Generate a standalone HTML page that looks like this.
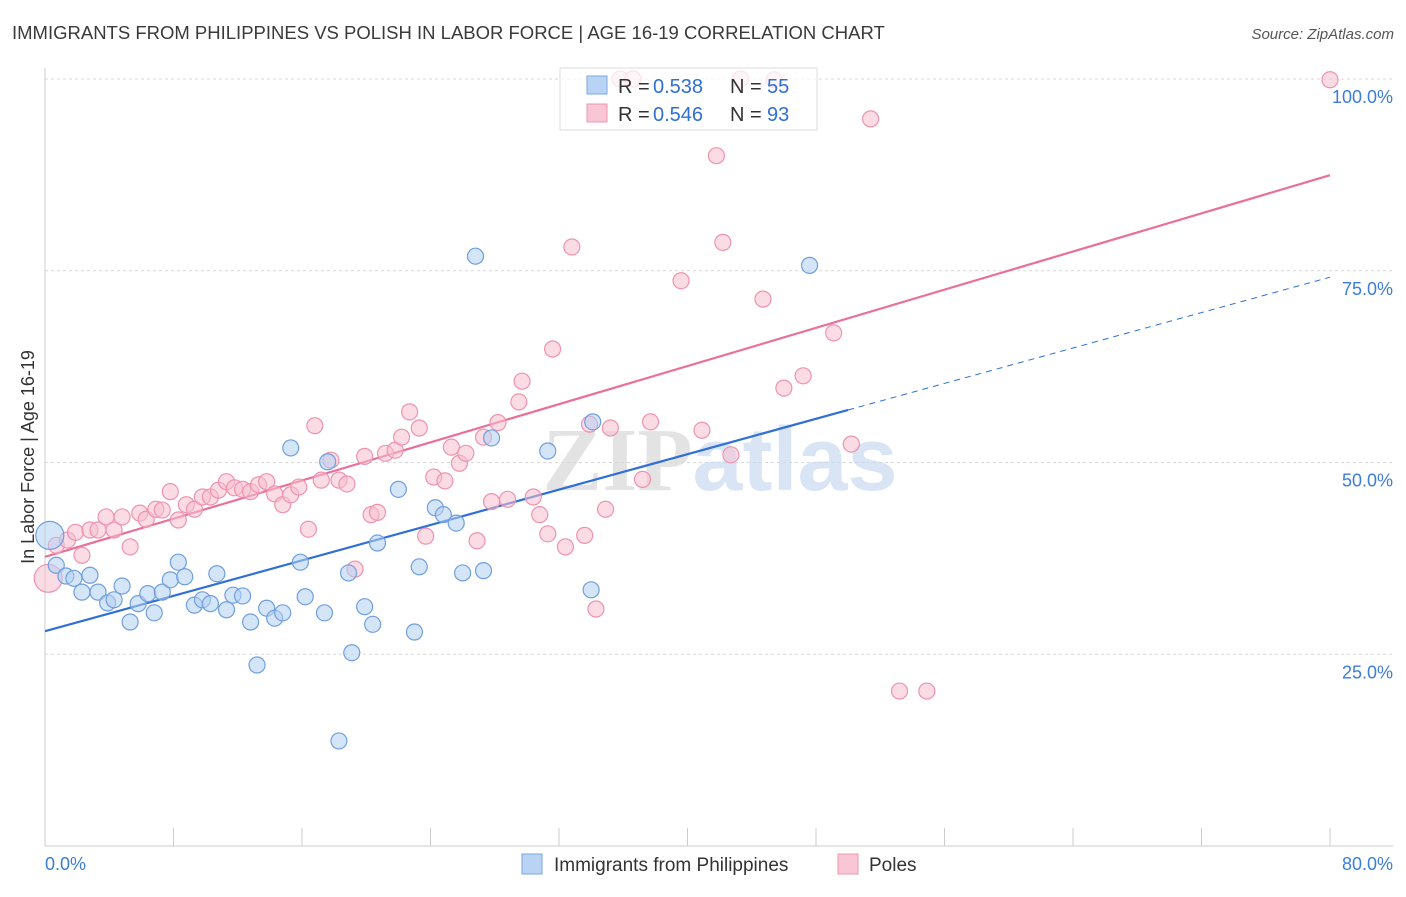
<!DOCTYPE html>
<html><head><meta charset="utf-8"><style>
body{margin:0;background:#fff;font-family:"Liberation Sans",sans-serif;}
svg text{font-family:"Liberation Sans",sans-serif;}
</style></head><body>
<svg id="chart" width="1406" height="892" xmlns="http://www.w3.org/2000/svg">
<text x="12" y="39" font-size="18.5" fill="#3a3a3a">IMMIGRANTS FROM PHILIPPINES VS POLISH IN LABOR FORCE | AGE 16-19 CORRELATION CHART</text>
<text x="1394" y="39" font-size="15" fill="#555" text-anchor="end" font-style="italic">Source: ZipAtlas.com</text>
<g id="grid"></g>
<text x="720" y="490" font-size="90" text-anchor="middle" font-weight="bold" fill="#dde3ec" opacity="0.7"><tspan fill="#d8d8d8" font-family="Liberation Serif">ZIP</tspan><tspan fill="#c9daf2">atlas</tspan></text>
<text transform="translate(34,457) rotate(-90)" font-size="18" fill="#333" text-anchor="middle">In Labor Force | Age 16-19</text>
<g id="lines"></g>
<g id="points"></g>
<g>
<rect x="560" y="68" width="257" height="62" fill="#fff" fill-opacity="0.75" stroke="#ddd"/>
<rect x="587" y="76" width="20" height="18" fill="#b9d3f5" stroke="#7aa7e3"/>
<text x="618" y="93" font-size="20" fill="#333">R =</text>
<text x="653" y="93" font-size="20" fill="#2f6fd6">0.538</text>
<text x="730" y="93" font-size="20" fill="#333">N =</text>
<text x="767" y="93" font-size="20" fill="#2f6fd6">55</text>
<rect x="587" y="104" width="20" height="18" fill="#f8c6d5" stroke="#ee97b3"/>
<text x="618" y="121" font-size="20" fill="#333">R =</text>
<text x="653" y="121" font-size="20" fill="#2f6fd6">0.546</text>
<text x="730" y="121" font-size="20" fill="#333">N =</text>
<text x="767" y="121" font-size="20" fill="#2f6fd6">93</text>
</g>
<g>
<rect x="522" y="854" width="20" height="20" fill="#b9d3f5" stroke="#7aa7e3"/>
<text x="554" y="871" font-size="19" fill="#333">Immigrants from Philippines</text>
<rect x="838" y="854" width="20" height="20" fill="#f8c6d5" stroke="#ee97b3"/>
<text x="869" y="871" font-size="19" fill="#333">Poles</text>
</g>
</svg>
<script>
const xTicks=[0,8,16,24,32,40,48,56,64,72,80];
const yTicks=[25,50,75,100];
const yTickLabels=["25.0%","50.0%","75.0%","100.0%"];
const xEndLabels=["0.0%","80.0%"];
const blueX=[0.3,0.7,1.3,1.8,2.3,2.8,3.3,3.9,4.3,4.8,5.3,5.8,6.4,6.8,7.3,7.8,8.3,8.7,9.3,9.8,10.3,10.7,11.3,11.7,12.3,12.8,13.2,13.8,14.3,14.8,15.3,15.9,16.2,17.4,17.6,18.3,18.9,19.1,19.9,20.4,20.7,22.0,23.0,23.3,24.3,24.8,25.6,26.0,26.8,27.3,27.8,31.3,34.0,34.1,47.6];
const blueY=[40.5,36.6,35.2,34.9,33.1,35.3,33.1,31.7,32.1,33.9,29.2,31.6,32.9,30.4,33.1,34.7,37.0,35.1,31.4,32.1,31.6,35.5,30.8,32.7,32.6,29.2,23.6,31.0,29.7,30.4,51.9,37.0,32.5,30.4,50.1,13.7,35.6,25.2,31.2,28.9,39.5,46.5,27.9,36.4,44.1,43.2,42.1,35.6,76.9,35.9,53.2,51.5,33.4,55.3,75.7];
const pinkX=[0.2,0.7,1.4,1.9,2.3,2.8,3.3,3.8,4.3,4.8,5.3,5.9,6.3,6.9,7.3,7.8,8.3,8.8,9.3,9.8,10.3,10.8,11.3,11.8,12.3,12.8,13.3,13.8,14.3,14.8,15.3,15.8,16.4,16.8,17.2,17.8,18.3,18.8,19.3,19.9,20.3,20.7,21.2,21.8,22.2,22.7,23.3,23.7,24.2,24.9,25.3,25.8,26.2,26.9,27.3,27.8,28.2,28.8,29.5,29.7,30.4,30.8,31.3,31.6,32.4,32.8,33.6,33.9,34.3,34.9,35.2,35.8,36.6,37.2,37.7,39.6,40.9,41.8,42.2,42.7,43.3,44.7,45.4,46.0,47.2,49.1,50.2,51.4,53.2,54.9,80.0];
const pinkY=[34.9,39.2,39.9,40.9,37.9,41.2,41.2,42.9,41.2,42.9,39.0,43.4,42.6,43.9,43.8,46.2,42.5,44.5,43.9,45.5,45.5,46.4,47.5,46.7,46.5,46.2,47.1,47.5,45.9,44.5,45.8,46.8,41.3,54.8,47.7,50.3,47.7,47.2,36.1,50.8,43.2,43.5,51.2,51.6,53.3,56.6,54.5,40.4,48.1,47.6,52.0,49.9,51.2,39.8,53.3,44.9,55.2,45.2,57.9,60.6,45.5,43.2,40.7,64.8,39.0,78.1,40.5,55.0,30.9,43.9,54.5,100,100,47.8,55.3,73.7,54.2,90.0,78.7,51.0,100,71.3,99.9,59.7,61.3,66.9,52.4,94.8,20.2,20.2,99.9];
const blueLine=[28.0,0.577];
const pinkLine=[37.7,0.622];
const NS="http://www.w3.org/2000/svg";
const X=v=>45+v*(1330-45)/80;
const Y=v=>846-v*7.67;
function mk(tag,attrs,parent){const e=document.createElementNS(NS,tag);for(const k in attrs)e.setAttribute(k,attrs[k]);parent.appendChild(e);return e;}
const grid=document.getElementById('grid');
yTicks.forEach((t,i)=>{
 const l=mk('line',{x1:45,x2:1393,y1:Y(t),y2:Y(t),stroke:'#d8d8d8','stroke-dasharray':'3,3'},grid);
 
 
 const tx=mk('text',{x:1393,y:Y(t)+24,'font-size':18,fill:'#3b7dd8','text-anchor':'end'},grid);
 tx.textContent=yTickLabels[i];
 
 
});
const ya=mk('line',{x1:45,x2:45,y1:68,y2:846,stroke:'#ccc'},grid);


const xa=mk('line',{x1:45,x2:1393,y1:846,y2:846,stroke:'#ccc'},grid);


xTicks.forEach(t=>{
 const l=mk('line',{x1:X(t),x2:X(t),y1:828,y2:846,stroke:'#ccc'},grid);
 
 
});
[[0,'start',45],[80,'end',1393]].forEach((d,i)=>{
 const tx=mk('text',{x:d[2],y:870,'font-size':18,fill:'#3b7dd8','text-anchor':d[1]},grid);
 tx.textContent=xEndLabels[i];
 
 
});
const pts=document.getElementById('points');
function drawPts(xs,ys,fill,stroke,name){
 xs.forEach((x,i)=>{
  const big=(i===0&&x<0.5);
  const c=mk('circle',{cx:X(x),cy:Y(ys[i]),r:big?14:8,fill:fill,'fill-opacity':0.55,stroke:stroke,'stroke-width':1.2},pts);
  
  
 });
}
drawPts(pinkX,pinkY,'#f7bfd0','#ee93b0','poles-point');
drawPts(blueX,blueY,'#b3cff3','#6f9fde','philippines-point');
const lines=document.getElementById('lines');
const b1=mk('line',{x1:X(0),y1:Y(blueLine[0]),x2:X(50),y2:Y(blueLine[0]+blueLine[1]*50),stroke:'#2f6fd6','stroke-width':2.2},lines);


const b2=mk('line',{x1:X(50),y1:Y(blueLine[0]+blueLine[1]*50),x2:X(80),y2:Y(blueLine[0]+blueLine[1]*80),stroke:'#2f6fd6','stroke-width':1,'stroke-dasharray':'6,5'},lines);


const p1=mk('line',{x1:X(0),y1:Y(pinkLine[0]),x2:X(80),y2:Y(pinkLine[0]+pinkLine[1]*80),stroke:'#e8709a','stroke-width':2.2},lines);


</script>
</body></html>
